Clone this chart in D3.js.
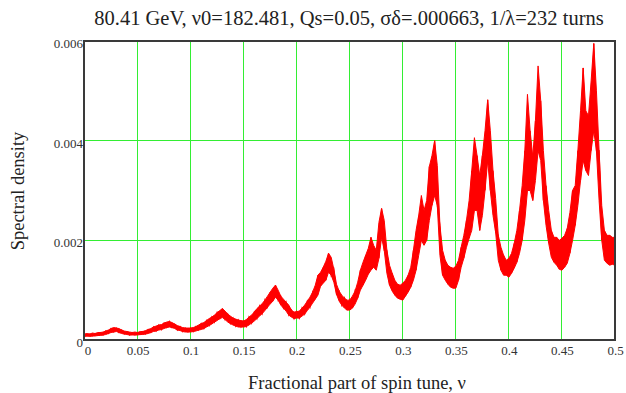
<!DOCTYPE html>
<html><head><meta charset="utf-8">
<script src="https://cdn.jsdelivr.net/npm/d3@7"></script>
<style>
body{margin:0;background:#fff}
svg{display:block}
text{font-family:"Liberation Serif","Times New Roman",serif}
</style>
</head><body>
<svg id="chart" width="626" height="393"></svg>
<script>
const titleText = "80.41 GeV, \u03bd0=182.481, Qs=0.05, \u03c3\u03b4=.000663, 1/\u03bb=232 turns";
const xLabelText = "Fractional part of spin tune, \u03bd";
const yLabelText = "Spectral density";
const xTicks = [0,0.05,0.1,0.15,0.2,0.25,0.3,0.35,0.4,0.45,0.5];
const xTickLabels = ["0","0.05","0.1","0.15","0.2","0.25","0.3","0.35","0.4","0.45","0.5"];
const yTicks = [0,0.002,0.004,0.006];
const yTickLabels = ["0","0.002","0.004","0.006"];
// spectrum sampled every 0.0025 in nu, starting at 0: upper and lower edge of the noisy trace
const nuStart = 0;
const nuStep = 0.0025;
const upper = [
1.2e-4,1.3e-4,1.2e-4,1.4e-4,1.3e-4,1.5e-4,1.5e-4,1.6e-4,1.8e-4,2.0e-4,
2.3e-4,2.5e-4,2.4e-4,2.3e-4,2.0e-4,1.8e-4,1.7e-4,1.6e-4,1.5e-4,1.6e-4,
1.5e-4,1.7e-4,1.7e-4,1.9e-4,2.1e-4,2.3e-4,2.6e-4,2.8e-4,3.0e-4,3.1e-4,
3.4e-4,3.6e-4,3.7e-4,3.5e-4,3.2e-4,2.9e-4,2.7e-4,2.5e-4,2.4e-4,2.4e-4,
2.4e-4,2.5e-4,2.7e-4,3.0e-4,3.3e-4,3.5e-4,3.9e-4,4.3e-4,4.6e-4,5.0e-4,
5.5e-4,5.9e-4,6.3e-4,5.8e-4,5.2e-4,4.8e-4,4.4e-4,4.2e-4,4.0e-4,3.9e-4,
3.8e-4,4.1e-4,4.6e-4,5.0e-4,5.6e-4,6.3e-4,6.8e-4,7.3e-4,8.0e-4,8.8e-4,
9.6e-4,10.4e-4,11.0e-4,10.0e-4,8.8e-4,8.2e-4,7.6e-4,7.0e-4,6.0e-4,5.6e-4,
5.7e-4,5.8e-4,6.4e-4,7.0e-4,7.8e-4,8.6e-4,9.6e-4,11.0e-4,13.0e-4,13.6e-4,
14.6e-4,15.8e-4,17.4e-4,16.6e-4,14.2e-4,11.2e-4,9.8e-4,9.0e-4,8.4e-4,8.0e-4,
8.0e-4,8.8e-4,9.8e-4,11.6e-4,14.0e-4,15.6e-4,17.0e-4,18.4e-4,20.6e-4,19.0e-4,
18.0e-4,23.6e-4,26.4e-4,24.0e-4,18.0e-4,15.0e-4,13.4e-4,12.0e-4,11.2e-4,11.0e-4,
11.4e-4,12.0e-4,13.0e-4,14.6e-4,18.0e-4,22.0e-4,25.0e-4,29.0e-4,26.0e-4,28.0e-4,
34.8e-4,37.0e-4,40.0e-4,35.0e-4,23.0e-4,18.0e-4,16.0e-4,15.0e-4,14.6e-4,14.4e-4,
14.8e-4,16.0e-4,18.6e-4,21.0e-4,24.0e-4,28.0e-4,34.0e-4,40.6e-4,37.0e-4,33.0e-4,
37.0e-4,42.0e-4,48.2e-4,42.0e-4,34.0e-4,28.4e-4,21.0e-4,18.6e-4,17.0e-4,16.0e-4,
16.4e-4,17.4e-4,19.4e-4,22.0e-4,26.0e-4,31.0e-4,38.0e-4,49.3e-4,42.0e-4,36.8e-4,
44.0e-4,55.0e-4,48.0e-4,38.0e-4,31.0e-4,26.0e-4,22.0e-4,20.6e-4,20.6e-4,20.0e-4,
20.4e-4,21.0e-4,22.4e-4,25.6e-4,30.0e-4,31.0e-4,38.0e-4,46.0e-4,54.6e-4,46.0e-4,
45.0e-4,52.0e-4,59.5e-4,50.0e-4,38.0e-4,27.0e-4,22.0e-4,21.0e-4,21.0e-4,20.6e-4,
20.6e-4
];
const lower = [
0.7e-4,0.8e-4,0.7e-4,0.8e-4,0.8e-4,0.9e-4,0.9e-4,1.0e-4,1.1e-4,1.3e-4,
1.5e-4,1.6e-4,1.7e-4,1.5e-4,1.3e-4,1.2e-4,1.1e-4,1.0e-4,1.0e-4,1.0e-4,
1.0e-4,1.1e-4,1.1e-4,1.2e-4,1.3e-4,1.5e-4,1.7e-4,1.8e-4,2.0e-4,2.1e-4,
2.3e-4,2.5e-4,2.6e-4,2.5e-4,2.3e-4,2.0e-4,1.9e-4,1.7e-4,1.6e-4,1.6e-4,
1.6e-4,1.7e-4,1.8e-4,2.0e-4,2.1e-4,2.3e-4,2.6e-4,2.9e-4,3.2e-4,3.6e-4,
3.9e-4,4.3e-4,4.5e-4,4.1e-4,3.6e-4,3.3e-4,3.0e-4,2.8e-4,2.6e-4,2.6e-4,
2.6e-4,2.7e-4,3.0e-4,3.4e-4,3.8e-4,4.3e-4,4.8e-4,5.3e-4,5.9e-4,6.6e-4,
7.2e-4,7.8e-4,8.6e-4,8.0e-4,7.0e-4,6.4e-4,5.8e-4,5.0e-4,4.6e-4,4.3e-4,
4.4e-4,4.4e-4,4.8e-4,5.2e-4,5.9e-4,6.6e-4,7.4e-4,8.2e-4,9.0e-4,10.8e-4,
11.4e-4,12.0e-4,13.6e-4,13.0e-4,11.6e-4,9.2e-4,7.8e-4,7.0e-4,6.4e-4,6.0e-4,
6.0e-4,6.4e-4,7.2e-4,8.4e-4,10.0e-4,11.0e-4,12.0e-4,13.2e-4,14.0e-4,14.6e-4,
14.0e-4,16.4e-4,20.6e-4,18.0e-4,13.4e-4,11.0e-4,9.8e-4,9.0e-4,8.4e-4,8.2e-4,
8.0e-4,8.8e-4,9.6e-4,10.6e-4,12.0e-4,14.0e-4,17.0e-4,20.0e-4,19.0e-4,20.0e-4,
24.0e-4,27.0e-4,29.0e-4,27.0e-4,17.0e-4,13.0e-4,12.0e-4,11.2e-4,10.6e-4,10.4e-4,
10.4e-4,12.0e-4,14.6e-4,16.4e-4,18.6e-4,20.4e-4,22.0e-4,26.0e-4,26.0e-4,22.0e-4,
25.0e-4,30.0e-4,36.0e-4,30.0e-4,25.0e-4,21.6e-4,16.0e-4,14.0e-4,13.0e-4,13.0e-4,
12.6e-4,13.4e-4,14.4e-4,15.6e-4,17.4e-4,20.0e-4,24.0e-4,30.0e-4,30.0e-4,28.0e-4,
32.0e-4,38.0e-4,36.0e-4,28.0e-4,23.0e-4,19.4e-4,16.6e-4,15.6e-4,15.0e-4,14.2e-4,
14.0e-4,14.6e-4,15.4e-4,17.4e-4,20.0e-4,23.0e-4,27.0e-4,32.0e-4,36.0e-4,34.0e-4,
33.0e-4,38.0e-4,42.0e-4,38.0e-4,28.0e-4,20.0e-4,16.0e-4,15.4e-4,15.0e-4,15.2e-4,
15.0e-4
];

const svg = d3.select("#chart");
const W = 626, H = 393;
const plot = {left: 84.5, right: 615, top: 41, bottom: 340};
svg.append("rect").attr("width", W).attr("height", H).attr("fill", "#fff");

const x = d3.scaleLinear().domain([0, 0.5]).range([plot.left, plot.right]);
const y = d3.scaleLinear().domain([0, 0.006]).range([plot.bottom, plot.top]);
const snap = v => Math.round(v - 0.5) + 0.5;

// grid
const grid = svg.append("g").attr("stroke", "#33ee33").attr("stroke-width", 1);
xTicks.filter(t => t > 0 && t < 0.5).forEach(t => {
  grid.append("line").attr("x1", snap(x(t))).attr("x2", snap(x(t)))
    .attr("y1", plot.top).attr("y2", plot.bottom);
});
yTicks.filter(t => t > 0 && t < 0.006).forEach(t => {
  grid.append("line").attr("x1", plot.left).attr("x2", plot.right)
    .attr("y1", snap(y(t))).attr("y2", snap(y(t)));
});

// data trace
const pts = upper.map((u, i) => ({nu: nuStart + i * nuStep, hi: u, lo: lower[i]}));
const area = d3.area().x(d => x(d.nu)).y0(d => y(d.lo)).y1(d => y(d.hi));
svg.append("path").datum(pts).attr("d", area)
  .attr("fill", "#ff0000").attr("stroke", "#ff0000").attr("stroke-width", 1)
  .attr("stroke-linejoin", "miter");
const zig = d3.line().x(d => x(d.nu)).y((d, i) => y(i % 2 ? d.lo : d.hi));
svg.append("path").datum(pts).attr("d", zig)
  .attr("fill", "none").attr("stroke", "#ff0000").attr("stroke-width", 1.2);

// frame
svg.append("rect").attr("x", 84).attr("y", 41).attr("width", 531).attr("height", 299)
  .attr("fill", "none").attr("stroke", "#3a3a3a").attr("stroke-width", 2);

// axes (labels only)
const yAxis = d3.axisLeft(y).tickValues(yTicks).tickSize(0)
  .tickFormat((d, i) => yTickLabels[i]);
const gy = svg.append("g").attr("transform", `translate(${plot.left},0)`).call(yAxis);
gy.select(".domain").remove();
gy.selectAll("text").attr("x", -1.5).attr("dy", "0.5em")
  .attr("font-size", 13).attr("fill", "#333")
  .style("font-family", '"Liberation Serif","Times New Roman",serif');

const xAxis = d3.axisBottom(x).tickValues(xTicks).tickSize(0)
  .tickFormat((d, i) => xTickLabels[i]);
const gx = svg.append("g").attr("transform", `translate(0,${plot.bottom})`).call(xAxis);
gx.select(".domain").remove();
gx.selectAll("text").attr("y", 6).attr("dy", "0.71em")
  .attr("font-size", 13).attr("fill", "#333")
  .style("font-family", '"Liberation Serif","Times New Roman",serif');
gx.selectAll(".tick").filter(d => d === 0).select("text").attr("x", 3);

// titles
svg.append("text").attr("x", 349).attr("y", 25).attr("text-anchor", "middle")
  .attr("font-size", 20.5).attr("fill", "#222").text(titleText);
svg.append("text").attr("x", 357).attr("y", 389).attr("text-anchor", "middle")
  .attr("font-size", 18.5).attr("fill", "#222").text(xLabelText);
svg.append("text").attr("transform", "translate(24,191) rotate(-90)")
  .attr("text-anchor", "middle").attr("font-size", 18.5).attr("fill", "#222").text(yLabelText);
</script>
</body></html>
